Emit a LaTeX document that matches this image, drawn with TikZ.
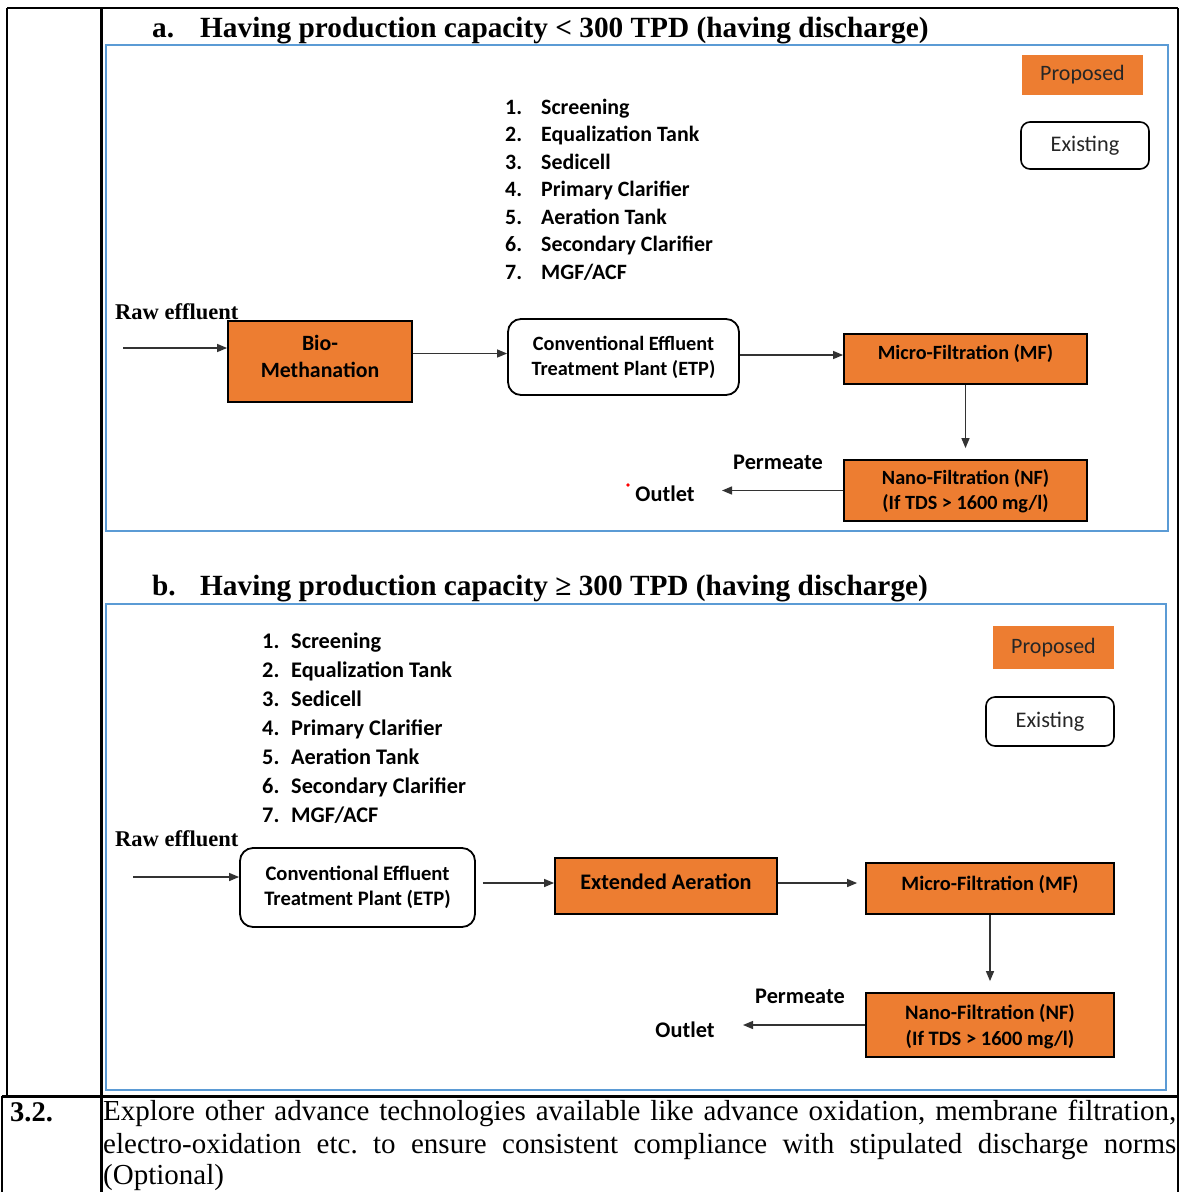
\documentclass[tikz,border=0pt]{standalone}
\usepackage{fontspec}
\setmainfont{Liberation Serif}
\newfontfamily\calibfont{Carlito}
\usetikzlibrary{arrows.meta,calc}
\definecolor{propfill}{HTML}{ED7D31}
\definecolor{panelblue}{HTML}{5B9BD5}
\definecolor{flowgrey}{HTML}{333333}
\definecolor{legendtext}{HTML}{262626}
\tikzset{
  rule/.style={line width=2.2pt, black},
  panel/.style={draw=panelblue, line width=1.8pt},
  proc/.style={draw=black, line width=1.8pt, fill=propfill, inner sep=0pt},
  plant/.style={draw=black, line width=1.8pt, fill=white, rounded corners=13pt, inner sep=0pt,
    align=center, font=\calibfont\bfseries\fontsize{20.3}{25}\selectfont},
  proctext/.style={inner sep=0pt, align=center, font=\calibfont\bfseries\fontsize{20.2}{25}\selectfont},
  legprop/.style={fill=propfill, inner sep=0pt, text=legendtext,
    font=\calibfont\fontsize{22}{25}\selectfont},
  legexist/.style={draw=black, line width=1.6pt, rounded corners=9pt, inner sep=0pt,
    text=legendtext, font=\calibfont\fontsize{22.3}{25}\selectfont},
  flow/.style={draw=flowgrey, line width=1.3pt, -{Triangle[length=10pt,width=8pt]}},
  caption/.style={font=\calibfont\bfseries\fontsize{22.3}{24}\selectfont, inner sep=0pt},
  heading/.style={font=\bfseries\fontsize{29.3}{32}\selectfont, anchor=base west, inner sep=0pt},
  rawlabel/.style={font=\bfseries\fontsize{22.5}{26}\selectfont, anchor=base west, inner sep=0pt},
  itemA/.style={font=\calibfont\bfseries\fontsize{21.9}{24}\selectfont, anchor=base west, inner sep=0pt},
  itemB/.style={font=\calibfont\bfseries\fontsize{22.3}{24}\selectfont, anchor=base west, inner sep=0pt},
  bodytext/.style={font=\fontsize{29}{34}\selectfont\frenchspacing, anchor=base west, inner sep=0pt},
}
\begin{document}
\begin{tikzpicture}[x=1pt,y=-1pt]
\useasboundingbox (0,0) rectangle (1181,1192);
\fill[white] (0,0) rectangle (1181,1192);

% table rules
\draw[rule] (7,8) -- (1178,8);
\draw[rule] (7,8) -- (7,1096);
\draw[rule] (2,1096) -- (2,1192);
\draw[line width=3pt] (101,8) -- (101,1192);
\draw[line width=3pt] (2,1096) -- (1178,1096);
\draw[rule] (1178,8) -- (1178,1192);

% ---------- panel a ----------
\node[heading] (tA1) at (152,37) {a.};
\node[heading] (tA2) at (200,37) {Having production capacity < 300 TPD (having discharge)};
\draw[panel] (106,45) rectangle (1168,531);

\node[legprop, minimum width=121pt, minimum height=40pt] (propA) at (1082.5,75) {Proposed};
\node[legexist, minimum width=128pt, minimum height=47pt] (exA) at (1085,145.5) {Existing};

\foreach \n/\t [count=\k from 0] in {1/Screening,2/Equalization Tank,3/Sedicell,4/Primary Clarifier,5/Aeration Tank,6/Secondary Clarifier,7/{MGF/ACF}}{
  \node[itemA] (numA\n) at (505,114+27.5*\k) {\n.};
  \node[itemA] (itA\n) at (541,114+27.5*\k) {\t};
}

\node[rawlabel] (rawA) at (115,319) {Raw effluent};
\node[proc, minimum width=184pt, minimum height=81pt] (bioA) at (320,361.5) {};
\node[proctext, font=\calibfont\bfseries\fontsize{21.8}{27}\selectfont] (bioAtxt) at ([yshift=5pt]bioA.center) {Bio-\\Methanation};
\node[plant, minimum width=231pt, minimum height=76pt] (etpA) at (623.5,357) {Conventional Effluent\\Treatment Plant (ETP)};
\node[proc, minimum width=243pt, minimum height=50pt] (mfA) at (965.5,359) {};
\node[proctext] (mfAtxt) at ([yshift=5pt]mfA.center) {Micro-Filtration (MF)};
\node[proc, minimum width=243pt, minimum height=61pt] (nfA) at (965.5,490.5) {};
\node[proctext] (nfAtxt) at ([yshift=-1pt]nfA.center) {Nano-Filtration (NF)\\(If TDS > 1600 mg/l)};
\node[caption] (permA) at (778,462) {Permeate};
\node[caption] (outletA) at (665,494) {Outlet};
\coordinate (inA) at (123,348);
\coordinate (tipA) at (722,489.5);
\fill[red] (628,485) circle (1.8pt);

\draw[flow] (inA) -- (inA -| bioA.west);
\draw[flow] ([yshift=8pt]bioA.east) -- ([yshift=8pt]bioA.east -| etpA.west);
\draw[flow] ([yshift=2pt]etpA.east) -- ([yshift=2pt]etpA.east -| mfA.west);
\draw[flow, shorten >=11pt] (mfA.south) -- (nfA.north);
\draw[flow] (nfA.west) -- (nfA.west -| tipA);

% ---------- panel b ----------
\node[heading] (tB1) at (152,595) {b.};
\node[heading] (tB2) at (200,595) {Having production capacity ≥ 300 TPD (having discharge)};
\draw[panel] (106,604) rectangle (1166,1090);

\node[legprop, minimum width=121pt, minimum height=43pt] (propB) at (1053.5,647.5) {Proposed};
\node[legexist, minimum width=128pt, minimum height=49pt] (exB) at (1050,721.5) {Existing};

\foreach \n/\t [count=\k from 0] in {1/Screening,2/Equalization Tank,3/Sedicell,4/Primary Clarifier,5/Aeration Tank,6/Secondary Clarifier,7/{MGF/ACF}}{
  \node[itemB] (numB\n) at (262,648+29*\k) {\n.};
  \node[itemB] (itB\n) at (291,648+29*\k) {\t};
}

\node[rawlabel] (rawB) at (115,846) {Raw effluent};
\node[plant, minimum width=235pt, minimum height=79pt, font=\calibfont\bfseries\fontsize{20.6}{25}\selectfont] (etpB) at (357.5,887.5) {Conventional Effluent\\Treatment Plant (ETP)};
\node[proc, minimum width=222pt, minimum height=56pt] (eaB) at (666,886) {};
\node[proctext, font=\calibfont\bfseries\fontsize{22.2}{25}\selectfont] (eaBtxt) at ([yshift=4pt]eaB.center) {Extended Aeration};
\node[proc, minimum width=248pt, minimum height=51pt] (mfB) at (990,888.5) {};
\node[proctext, font=\calibfont\bfseries\fontsize{20.4}{25}\selectfont] (mfBtxt) at ([yshift=4pt]mfB.center) {Micro-Filtration (MF)};
\node[proc, minimum width=248pt, minimum height=64pt] (nfB) at (990,1025) {};
\node[proctext, font=\calibfont\bfseries\fontsize{20.5}{26}\selectfont] (nfBtxt) at ([yshift=-2pt]nfB.center) {Nano-Filtration (NF)\\(If TDS > 1600 mg/l)};
\node[caption] (permB) at (800,996) {Permeate};
\node[caption] (outletB) at (685,1030) {Outlet};
\coordinate (inB) at (133,877);
\coordinate (tipB) at (743,1025);

\draw[flow] (inB) -- (inB -| etpB.west);
\draw[flow, shorten <=7pt] ([yshift=4.5pt]etpB.east) -- ([yshift=4.5pt]etpB.east -| eaB.west);
\draw[flow, shorten >=8pt] ([yshift=3pt]eaB.east) -- ([yshift=3pt]eaB.east -| mfB.west);
\draw[flow, shorten >=11pt] (mfB.south) -- (nfB.north);
\draw[flow] (nfB.west) -- (nfB.west -| tipB);

% ---------- item 3.2 ----------
\node[bodytext, font=\bfseries\fontsize{28.5}{34}\selectfont] (num32) at (10,1121) {3.2.};
\node[bodytext] (l1) at (103,1120) {\makebox[1073pt][s]{Explore other advance technologies available like advance oxidation, membrane filtration,}};
\node[bodytext] (l2) at (103,1153) {\makebox[1073pt][s]{electro-oxidation etc. to ensure consistent compliance with stipulated discharge norms}};
\node[bodytext] (l3) at (103,1184) {(Optional)};
\end{tikzpicture}
\end{document}
